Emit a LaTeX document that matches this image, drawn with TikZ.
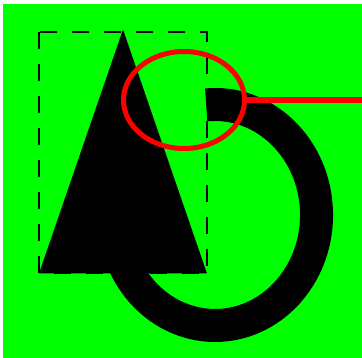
\documentclass[tikz,border=0pt]{standalone}
\usetikzlibrary{shapes.geometric}
\begin{document}
\begin{tikzpicture}[x=1pt,y=1pt,
  bg/.style={fill={rgb,255:red,0;green,255;blue,0}},
  thickarc/.style={draw=black,line width=33pt},
  guide/.style={draw=black,line width=2pt,dash pattern=on 17pt off 15pt},
  ringstyle/.style={ellipse,draw=red,line width=5pt,minimum width=121pt,minimum height=97pt,inner sep=0pt},
  redline/.style={draw=red,line width=5.5pt}]
\useasboundingbox (0,0) rectangle (362,-358);
\fill[bg] (3,-4) rectangle (362,-358);
% thick elliptical arc
\draw[thickarc] (206.2,-104.9) arc[start angle=95,end angle=-180,x radius=101.5,y radius=110.5];
% triangle
\fill[black] (123,-29.5) -- (39,-273.5) -- (207,-273.5) -- cycle;
% dashed bounding box
\draw[guide] (39,-32) rectangle (207,-273);
% red ellipse and line
\node[ringstyle] (ring) at (184,-100) {};
\coordinate (lineend) at (362,-100);
\draw[redline] (ring.east) -- (lineend);
\end{tikzpicture}
\end{document}
